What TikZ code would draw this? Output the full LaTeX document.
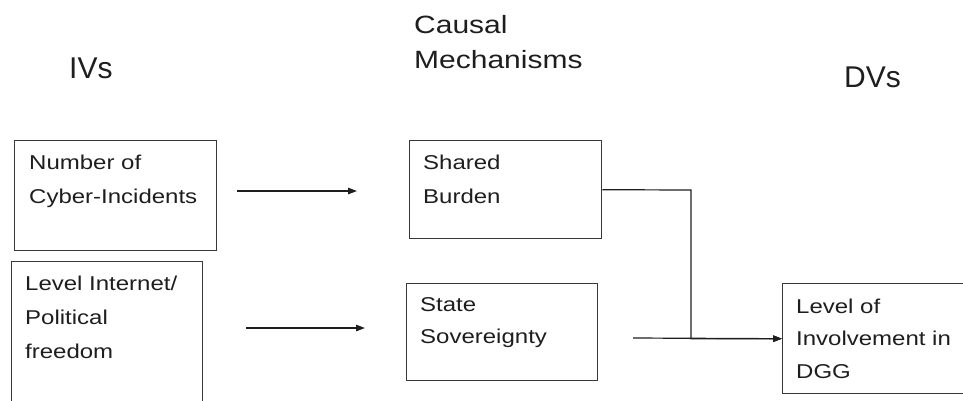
\documentclass[tikz,border=0pt]{standalone}
\usepackage{fontspec}
\setmainfont{Liberation Sans}
\newfontfamily\boxfont[FakeStretch=1.2]{Liberation Sans}
\newfontfamily\headfont{Liberation Sans}
\usetikzlibrary{arrows.meta}
\definecolor{inkc}{HTML}{1E1E1E}
\definecolor{linec}{HTML}{383838}
\tikzset{
  boxnode/.style={draw=linec, line width=1.4pt, rectangle, inner sep=0pt, anchor=north west},
  boxtext/.style={text=inkc, inner sep=0pt, anchor=base west, align=left, font=\boxfont\fontsize{20}{34}\selectfont},
  headtext/.style={text=inkc, inner sep=0pt, anchor=base west, align=left},
  conn/.style={draw=inkc, line width=1.2pt},
  arr/.style={conn, -{Triangle[length=9pt,width=6.5pt]}}
}
\begin{document}
\begin{tikzpicture}[x=1pt,y=-1pt]
\useasboundingbox (0,0) rectangle (963,400);
\clip (0,0) rectangle (963,400);
% headers (anchor = baseline of the last line)
\node[headtext, font=\headfont\fontsize{30}{35}\selectfont] (hiv) at (69,78) {IVs};
\node[headtext, font=\boxfont\fontsize{25}{35}\selectfont] (hcm) at (414,68) {Causal\\Mechanisms};
\node[headtext, font=\headfont\fontsize{30}{35}\selectfont] (hdv) at (844,87) {DVs};
% boxes
\node[boxnode, minimum width=202pt, minimum height=110pt] (A) at (14,140) {};
\node[boxnode, minimum width=191pt, minimum height=160pt] (B) at (11,261) {};
\node[boxnode, minimum width=192pt, minimum height=98pt] (C) at (409,140) {};
\node[boxnode, minimum width=191pt, minimum height=97pt] (D) at (406,283) {};
\node[boxnode, minimum width=200pt, minimum height=110pt] (E) at (782,283) {};
% texts (anchor = baseline of the last line)
\node[boxtext] (tA) at (29,203) {Number of\\Cyber-Incidents};
\node[boxtext] (tB) at (25,358) {Level Internet/\\Political\\freedom};
\node[boxtext] (tC) at (423,203) {Shared\\Burden};
\node[boxtext, font=\boxfont\fontsize{20}{32}\selectfont] (tD) at (420,343) {State\\Sovereignty};
\node[boxtext, font=\boxfont\fontsize{20}{32.5}\selectfont] (tE) at (796,378) {Level of\\Involvement in\\DGG};
% connectors
\coordinate (a1s) at (237,191);
\coordinate (a1e) at (357,191);
\coordinate (a2s) at (246,328);
\coordinate (a2e) at (365,328);
\coordinate (a3s) at (633,338);
\coordinate (bend) at (691,190);
\draw[arr] (a1s) -- (a1e);
\draw[arr] (a2s) -- (a2e);
\draw[arr] (C.east) -- (bend) |- (E.west);
\draw[arr] (a3s) -- (E.west);
\end{tikzpicture}
\end{document}
